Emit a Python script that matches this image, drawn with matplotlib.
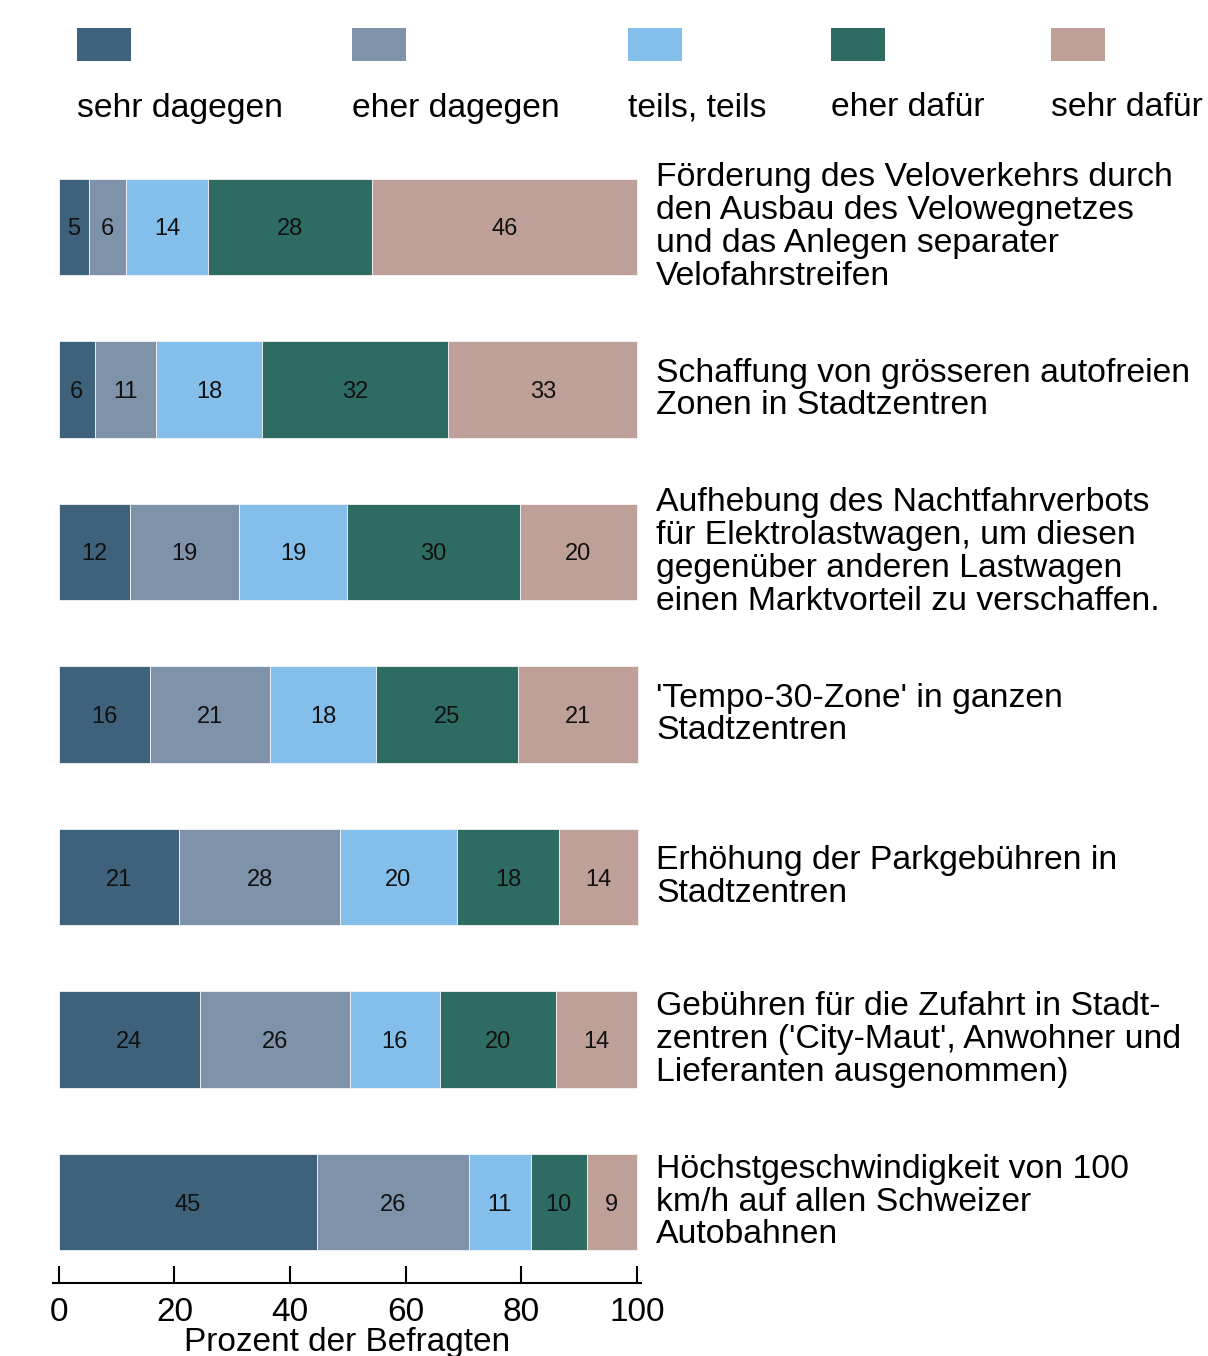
import matplotlib
matplotlib.use("Agg")
import matplotlib.pyplot as plt
import matplotlib.transforms as mtransforms
from matplotlib.patches import Rectangle
import numpy as np

plt.rcParams['font.family'] = ['Liberation Sans', 'DejaVu Sans']

categories = [
    "Förderung des Veloverkehrs durch\nden Ausbau des Velowegnetzes\nund das Anlegen separater\nVelofahrstreifen",
    "Schaffung von grösseren autofreien\nZonen in Stadtzentren",
    "Aufhebung des Nachtfahrverbots\nfür Elektrolastwagen, um diesen\ngegenüber anderen Lastwagen\neinen Marktvorteil zu verschaffen.",
    "'Tempo-30-Zone' in ganzen\nStadtzentren",
    "Erhöhung der Parkgebühren in\nStadtzentren",
    "Gebühren für die Zufahrt in Stadt-\nzentren ('City-Maut', Anwohner und\nLieferanten ausgenommen)",
    "Höchstgeschwindigkeit von 100\nkm/h auf allen Schweizer\nAutobahnen",
]
series_names = ["sehr dagegen", "eher dagegen", "teils, teils", "eher dafür", "sehr dafür"]
sehr_dagegen = [5.2, 6.2, 12.3, 15.7, 20.8, 24.4, 44.6]
eher_dagegen = [6.4, 10.7, 18.9, 20.9, 27.9, 25.9, 26.4]
teils_teils = [14.2, 18.3, 18.6, 18.2, 20.1, 15.6, 10.6]
eher_dafuer = [28.4, 32.2, 29.9, 24.7, 17.8, 20.1, 9.7]
sehr_dafuer = [45.8, 32.6, 20.3, 20.6, 13.5, 14.0, 8.7]
xticks = [0, 20, 40, 60, 80, 100]
xlabel = "Prozent der Befragten"

colors = ["#3e627c", "#7e93a9", "#83bfea", "#2e6c63", "#bea099"]
series = [sehr_dagegen, eher_dagegen, teils_teils, eher_dafuer, sehr_dafuer]

W, H = 1208, 1356
fig = plt.figure(figsize=(W / 100, H / 100), dpi=100)
ax_left, ax_right = 53 / W, 641 / W
ax_top_px, ax_bot_px = 160, 1283
ax = fig.add_axes([ax_left, 1 - ax_bot_px / H, ax_right - ax_left, (ax_bot_px - ax_top_px) / H])

n = len(categories)
y = np.arange(n)
left = np.zeros(n)
for vals, col in zip(series, colors):
    vals = np.array(vals, dtype=float)
    ax.barh(y, vals, left=left, height=0.595, color=col, edgecolor="#f4f4f4", linewidth=0.6)
    for yi, l, v in zip(y, left, vals):
        ax.text(l + v / 2, yi, f"{v:.0f}", ha="center", va="center_baseline",
                fontsize=17, color="#111111")
    left += vals

ax.set_xlim(-1, 100.7)
ax.set_ylim(6.498, -0.412)
ax.set_yticks([])
for s in ["top", "right", "left"]:
    ax.spines[s].set_visible(False)
ax.spines["bottom"].set_linewidth(1.5)
ax.set_xticks(xticks)
ax.tick_params(axis="x", direction="in", length=12, width=1.5, labelsize=24, pad=10)
ax.set_xlabel(xlabel, fontsize=24, labelpad=-1)

trans = mtransforms.blended_transform_factory(fig.transFigure, ax.transData)
for yi, cat in zip(y, categories):
    ax.text(656 / W, yi, cat, transform=trans, ha="left", va="center",
            fontsize=24.3, linespacing=1.08, clip_on=False)

# legend
leg_x = [77, 352, 628, 831, 1051]
for xp, name, col in zip(leg_x, series_names, colors):
    fig.add_artist(Rectangle((xp / W, 1 - 61 / H), 54 / W, 33 / H, transform=fig.transFigure,
                             facecolor=col, edgecolor="none"))
    fig.text(xp / W, 1 - 108 / H, name, ha="left", va="center", fontsize=24.3)

fig.savefig("out.png", dpi=100)
